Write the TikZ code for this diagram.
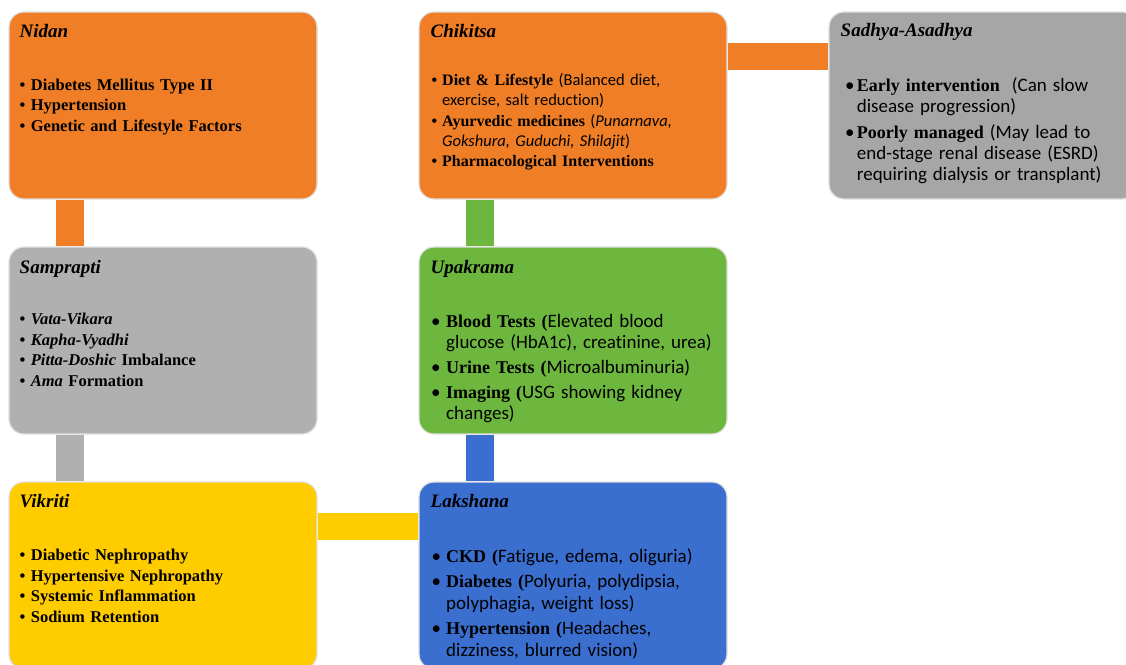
\documentclass[tikz,border=0pt]{standalone}
\usepackage{fontspec}
\setmainfont{Liberation Serif}
\newfontfamily\calib[Ligatures=NoCommon]{Carlito}
\usetikzlibrary{calc}
\definecolor{corange}{HTML}{F07E26}
\definecolor{cgrayA}{HTML}{B0B0B0}
\definecolor{cgrayB}{HTML}{A6A6A6}
\definecolor{cgreen}{HTML}{6DB73F}
\definecolor{cyellow}{HTML}{FFCC00}
\definecolor{cblue}{HTML}{3A6ECF}
\newlength{\bind}
\newcommand{\snsz}{}
\newcommand{\sn}[1]{{\calib\mdseries\upshape\snsz #1}}
\newcommand{\si}[1]{{\calib\mdseries\itshape\snsz #1}}
\newcommand{\bul}{\textbf{\textbullet}}
% first item: no \par (the node has already started its paragraph)
\newcommand{\itmf}[1]{\hangindent=\bind\hangafter=1\noindent\makebox[\bind][l]{\bul}#1}
\newcommand{\itm}[1]{\par\itmf{#1}}
\begin{document}
\begin{tikzpicture}[x=1pt,y=-1pt,
  box/.style={rectangle, rounded corners=15pt, minimum width=308pt, minimum height=187pt, draw=black!12, line width=1.2pt, inner sep=0pt},
  title/.style={anchor=base west, inner sep=0pt, font=\fontsize{19}{22}\selectfont\bfseries\itshape},
  body/.style={anchor=base west, inner sep=0pt, text width=300pt, align=left},
  serifbody/.style={body, font=\fontsize{16.5}{20.5}\selectfont\bfseries},
  bar/.style={line width=27.5pt},
]
\useasboundingbox (0,0) rectangle (1126,664);
\clip (0,0) rectangle (1126,664);
\fill[white] (0,0) rectangle (1126,664);

% boxes
\node[box, fill=corange] (nidan) at (163,105.5) {};
\node[box, fill=corange] (chik) at (573,105.5) {};
\node[box, fill=cgrayB] (sadh) at (983,105.5) {};
\node[box, fill=cgrayA] (samp) at (163,340.5) {};
\node[box, fill=cgreen] (upak) at (573,340.5) {};
\node[box, fill=cyellow] (vikr) at (163,575.5) {};
\node[box, fill=cblue] (laksh) at (573,575.5) {};

% connectors
\draw[bar, corange] ($(nidan.south west)+(61.5,0)$) -- ($(samp.north west)+(61.5,0)$);
\draw[bar, cgrayA] ($(samp.south west)+(61.5,0)$) -- ($(vikr.north west)+(61.5,0)$);
\draw[bar, cyellow] ($(vikr.north east)+(0,45)$) -- ($(laksh.north west)+(0,45)$);
\draw[bar, cblue] ($(laksh.north west)+(61.5,0)$) -- ($(upak.south west)+(61.5,0)$);
\draw[bar, cgreen] ($(upak.north west)+(61.5,0)$) -- ($(chik.south west)+(61.5,0)$);
\draw[bar, corange] ($(chik.north east)+(0,45)$) -- ($(sadh.north west)+(0,45)$);

% titles
\node[title] (nidant) at (19.5,37.7) {Nidan};
\node[title] (chikt) at (430.5,37.7) {Chikitsa};
\node[title] (sadht) at (840.5,36.7) {Sadhya-Asadhya};
\node[title] (sampt) at (19.5,273.3) {Samprapti};
\node[title] (upakt) at (430.5,273.3) {Upakrama};
\node[title] (vikrt) at (19.5,507.7) {Vikriti};
\node[title] (laksht) at (430.5,507.7) {Lakshana};

% bodies
\node[serifbody] (nidanb) at (19.5,90) {\setlength\bind{11.2pt}%
\itmf{Diabetes Mellitus Type II}\itm{Hypertension}\itm{Genetic and Lifestyle Factors}\par};

\node[body, font=\fontsize{16}{20.4}\selectfont] (chikb) at (431.5,85.3) {\setlength\bind{10.5pt}\renewcommand{\snsz}{\fontsize{16.5}{20.4}\selectfont}%
\itmf{\textbf{Diet \& Lifestyle} \sn{(Balanced diet,}\newline\sn{exercise, salt reduction)}}%
\itm{\textbf{Ayurvedic medicines} \sn{(}\si{Punarnava,}\newline\si{Gokshura, Guduchi, Shilajit}\sn{)}}%
\itm{\textbf{Pharmacological Interventions}}\par};

\node[body, font=\fontsize{18}{21.2}\selectfont] (sadhb) at (845,91.5) {\setlength\bind{11.7pt}\setlength\parskip{4.3pt}\renewcommand{\snsz}{\fontsize{19}{21.2}\selectfont}\renewcommand{\bul}{\sn{\textbullet}}%
\itmf{\textbf{Early intervention}\ \ \sn{(Can slow}\newline\sn{disease progression)}}%
\itm{\textbf{Poorly managed} \sn{(May lead to}\newline\sn{end-stage renal disease (ESRD)}\newline\sn{requiring dialysis or transplant)}}\par};

\node[serifbody] (sampb) at (19.5,324.5) {\setlength\bind{11.2pt}%
\itmf{\textit{Vata-Vikara}}\itm{\textit{Kapha-Vyadhi}}\itm{\textit{Pitta-Doshic} Imbalance}\itm{\textit{Ama} Formation}\par};

\node[body, font=\fontsize{18}{21}\selectfont] (upakb) at (431,327.3) {\setlength\bind{15pt}\setlength\parskip{4.2pt}\renewcommand{\snsz}{\fontsize{19}{21}\selectfont}\renewcommand{\bul}{\sn{\textbullet}}%
\itmf{\textbf{Blood Tests (}\sn{Elevated blood}\newline\sn{glucose (HbA1c), creatinine, urea)}}%
\itm{\textbf{Urine Tests (}\sn{Microalbuminuria)}}%
\itm{\textbf{Imaging (}\sn{USG showing kidney}\newline\sn{changes)}}\par};

\node[serifbody] (vikrb) at (19.5,560.5) {\setlength\bind{11.2pt}%
\itmf{Diabetic Nephropathy}\itm{Hypertensive Nephropathy}\itm{Systemic Inflammation}\itm{Sodium Retention}\par};

\node[body, font=\fontsize{18}{21.6}\selectfont] (lakshb) at (431.5,562.2) {\setlength\bind{14.5pt}\setlength\parskip{3.8pt}\renewcommand{\snsz}{\fontsize{19}{21.6}\selectfont}\renewcommand{\bul}{\sn{\textbullet}}%
\itmf{\textbf{CKD (}\sn{Fatigue, edema, oliguria)}}%
\itm{\textbf{Diabetes (}\sn{Polyuria, polydipsia,}\newline\sn{polyphagia, weight loss)}}%
\itm{\textbf{Hypertension (}\sn{Headaches,}\newline\sn{dizziness, blurred vision)}}\par};
\end{tikzpicture}
\end{document}
